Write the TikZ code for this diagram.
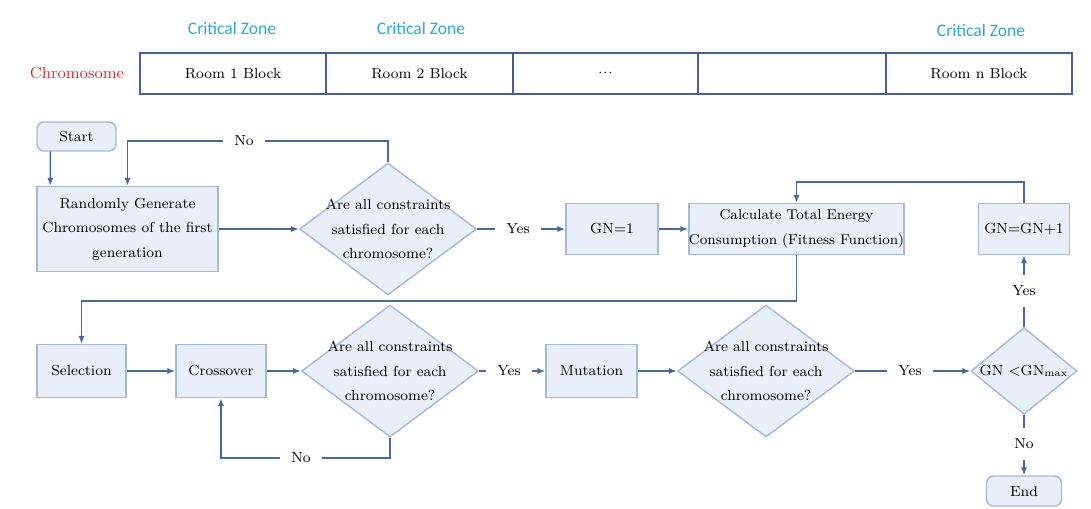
\documentclass[tikz,border=0pt]{standalone}
\usepackage{fontspec}
\newfontfamily\zonefont{Carlito}
\usetikzlibrary{shapes.geometric,arrows.meta}
\definecolor{boxfill}{RGB}{233,238,248}
\definecolor{boxedge}{RGB}{165,185,220}
\definecolor{flowline}{RGB}{70,105,165}
\definecolor{celledge}{RGB}{70,95,160}
\definecolor{zonecyan}{RGB}{40,170,225}
\definecolor{chromred}{RGB}{230,35,45}
\begin{document}
\begin{tikzpicture}[x=0.02cm, y=-0.02cm,
        txt/.style={font=\rmfamily\fontsize{8.3pt}{14pt}\selectfont, text=black},
        cell/.style={rectangle, draw=celledge, line width=0.8pt, minimum height=0.82cm, inner sep=0pt, txt},
        zone/.style={font=\zonefont\fontsize{10pt}{12pt}\selectfont, text=zonecyan},
        process/.style={rectangle, draw=boxedge, fill=boxfill, line width=0.8pt, inner sep=0pt, align=center, txt},
        terminal/.style={process, rounded corners=4pt},
        decision/.style={diamond, draw=boxedge, fill=boxfill, line width=0.8pt, inner sep=0pt, minimum width=3.54cm, minimum height=2.64cm, txt},
        dtext/.style={align=center, txt},
        line/.style={draw=flowline, line width=0.8pt},
        arrow/.style={line, -{Latex[length=4.5pt,width=3.5pt]}},
        answer/.style={inner sep=6pt, txt}
    ]
        \useasboundingbox (0,0) rectangle (1091,508);

        % Chromosome layout
        \node[zone] (zone1) at (232,28) {Critical Zone};
        \node[zone] (zone2) at (421,28) {Critical Zone};
        \node[zone] (zone3) at (981,30) {Critical Zone};
        \node[txt, text=chromred, font=\rmfamily\fontsize{9.2pt}{12pt}\selectfont] (chrom) at (77,73) {Chromosome};
        \node[cell, minimum width=3.72cm] (room1) at (233,73.5) {Room 1 Block};
        \node[cell, minimum width=3.74cm] (room2) at (419.5,73.5) {Room 2 Block};
        \node[cell, minimum width=3.70cm] (dots) at (605.5,73.5) {\textbf{$\cdot\!\cdot\!\cdot$}};
        \node[cell, minimum width=3.76cm] (blank) at (792,73.5) {};
        \node[cell, minimum width=3.72cm] (roomn) at (979,73.5) {Room n Block};

        % First row
        \node[terminal, minimum width=1.58cm, minimum height=0.58cm] (start) at (76.5,136.5) {Start};
        \node[process, minimum width=3.62cm, minimum height=1.7cm] (gen) at (127.5,229) {Randomly Generate\\Chromosomes of the first\\generation};
        \node[decision, label={[dtext]center:Are all constraints\\satisfied for each\\chromosome?}] (dec1) at (388,229) {};
        \node[process, minimum width=1.84cm, minimum height=1.02cm] (gn1) at (612,229) {GN=1};
        \node[process, minimum width=4.22cm, minimum height=1.02cm, font=\rmfamily\fontsize{8.1pt}{14pt}\selectfont] (calc) at (796.5,229) {Calculate Total Energy\\Consumption (Fitness Function)};
        \node[process, minimum width=1.82cm, minimum height=1.02cm] (gninc) at (1024,229) {GN=GN+1};

        % Second row
        \node[process, minimum width=1.78cm, minimum height=1.06cm] (sel) at (81.5,371) {Selection};
        \node[process, minimum width=1.80cm, minimum height=1.06cm] (cross) at (221,371) {Crossover};
        \node[decision, label={[dtext]center:Are all constraints\\satisfied for each\\chromosome?}] (dec2) at (390,371) {};
        \node[process, minimum width=1.82cm, minimum height=1.06cm] (mut) at (591.5,371) {Mutation};
        \node[decision, label={[dtext]center:Are all constraints\\satisfied for each\\chromosome?}] (dec3) at (766,371) {};
        \node[decision, minimum width=2.12cm, minimum height=1.74cm, label={[dtext]center:GN <GN\textsubscript{max}}] (dec4) at (1024,371) {};
        \node[terminal, minimum width=1.5cm, minimum height=0.6cm] (end) at (1024,491) {End};

        % Answer labels
        \node[answer] (no1) at (244,141) {No};
        \node[answer] (yes1) at (518,229) {Yes};
        \node[answer] (no2) at (301,458) {No};
        \node[answer] (yes2) at (509,371) {Yes};
        \node[answer] (yes3) at (910,371) {Yes};
        \node[answer] (yes4) at (1024,291) {Yes};
        \node[answer] (no4) at (1024,444) {No};

        % Connectors
        \draw[arrow] ([xshift=0.28cm]start.south west) -- ([xshift=0.28cm]gen.north west);
        \draw[line] (dec1.north) |- (no1.east);
        \draw[arrow] (no1.west) -| (gen.north);
        \draw[arrow] (gen.east) -- (dec1.west);
        \draw[line] (dec1.east) -- (yes1.west);
        \draw[arrow] (yes1.east) -- (gn1.west);
        \draw[arrow] (gn1) -- (calc);
        \draw[arrow] (gninc.north) -- ++(0,0.42cm) -| (calc.north);
        \draw[arrow] (calc.south) -- ++(0,-0.92cm) -| (sel.north);
        \draw[arrow] (sel) -- (cross);
        \draw[arrow] (cross) -- (dec2);
        \draw[line] (dec2.south) |- (no2.east);
        \draw[arrow] (no2.west) -| (cross.south);
        \draw[line] (dec2.east) -- (yes2.west);
        \draw[arrow] (yes2.east) -- (mut.west);
        \draw[arrow] (mut) -- (dec3);
        \draw[line] (dec3.east) -- (yes3.west);
        \draw[arrow] (yes3.east) -- (dec4.west);
        \draw[line] (dec4.north) -- (yes4.south);
        \draw[arrow] (yes4.north) -- (gninc.south);
        \draw[line] (dec4.south) -- (no4.north);
        \draw[arrow] (no4.south) -- (end.north);
    \end{tikzpicture}
\end{document}
